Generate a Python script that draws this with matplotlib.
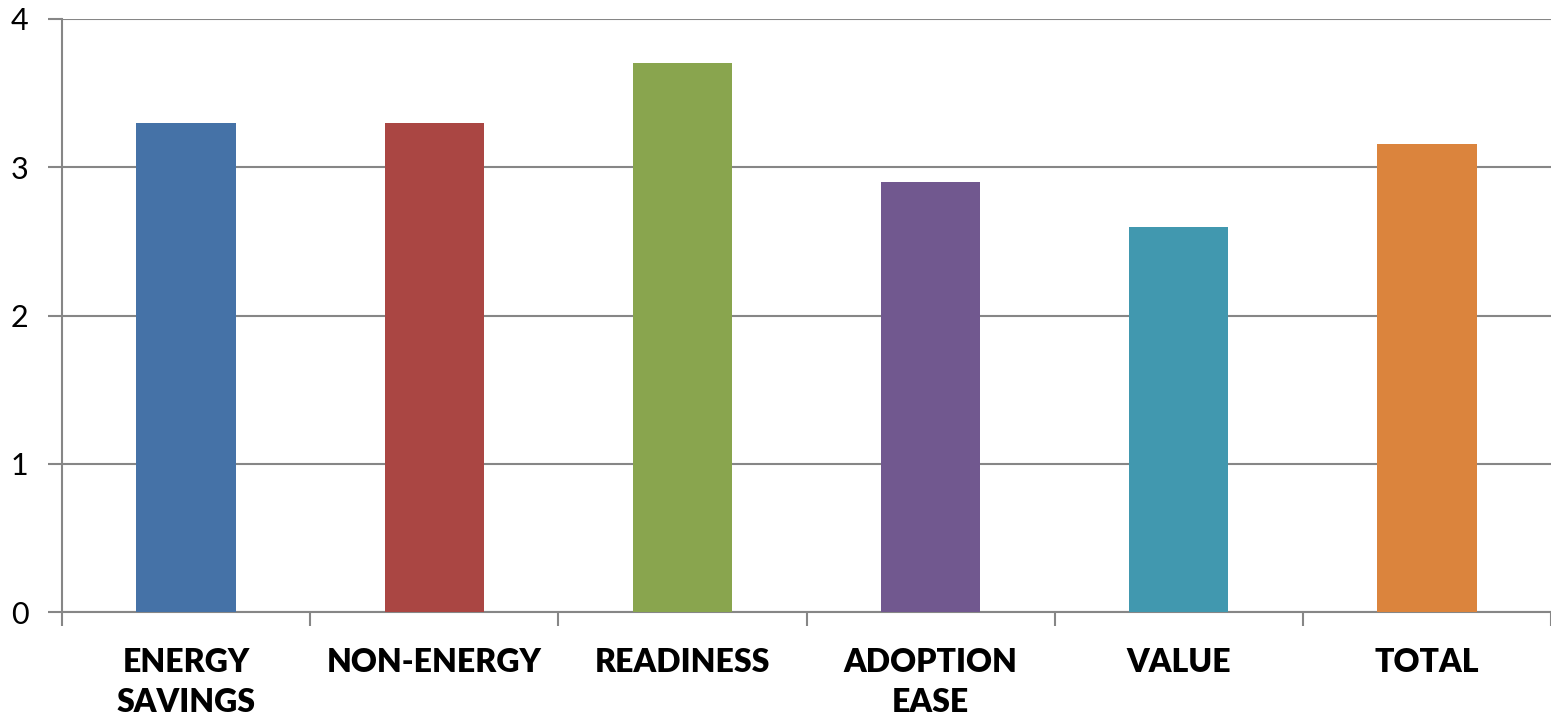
import matplotlib
matplotlib.use("Agg")
import matplotlib.pyplot as plt
from matplotlib.ticker import FixedLocator

categories = ["ENERGY\nSAVINGS", "NON-ENERGY", "READINESS", "ADOPTION\nEASE", "VALUE", "TOTAL"]
values = [3.3, 3.3, 3.7, 2.9, 2.6, 3.16]
colors = ["#4572A7", "#AA4643", "#89A54E", "#71588F", "#4198AF", "#DB843D"]
yticks = [0, 1, 2, 3, 4]

plt.rcParams['font.family'] = ['Lato', 'DejaVu Sans']
fig = plt.figure(figsize=(15.51, 7.22), dpi=100)
ax = fig.add_axes([62/1551, 1-612/722, 1-62/1551, (612-19)/722])

x = list(range(len(categories)))
ax.bar(x, values, width=0.4, color=colors, zorder=3)
ax.set_xlim(-0.5, len(categories) - 0.5)
ax.set_ylim(0, 4)
ax.set_yticks(yticks)
ax.set_yticklabels([str(t) for t in yticks], fontsize=22)
ax.yaxis.grid(True, color="#868686", linewidth=1.5, zorder=0)
ax.set_xticks(x)
ax.set_xticklabels(categories, fontsize=23, fontweight="heavy", linespacing=1.45)
ax.xaxis.set_minor_locator(FixedLocator([i - 0.5 for i in range(len(categories) + 1)]))
ax.tick_params(axis="x", which="major", length=0, pad=26)
ax.tick_params(axis="x", which="minor", length=10, width=1.5, color="#868686", direction="out")
ax.tick_params(axis="y", length=10, width=1.5, color="#868686", pad=14)
for s in ["top", "right"]:
    ax.spines[s].set_visible(False)
for s in ["left", "bottom"]:
    ax.spines[s].set_color("#868686")
    ax.spines[s].set_linewidth(1.5)

fig.savefig("out.png", dpi=100)
